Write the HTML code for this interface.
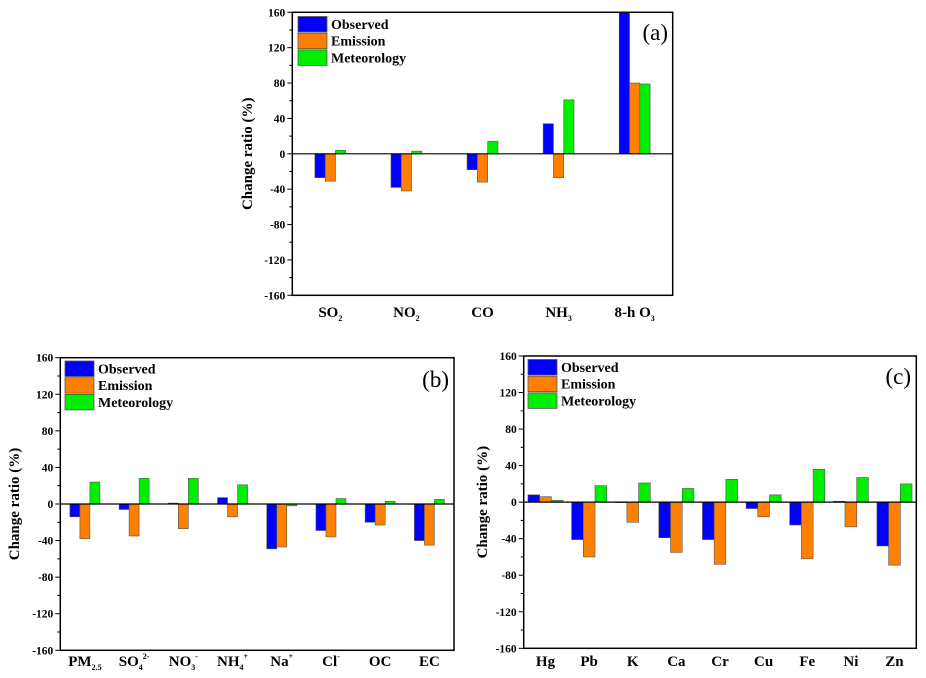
<!DOCTYPE html>
<html><head><meta charset="utf-8"><style>
html,body{margin:0;padding:0;background:#fff;}
svg{display:block;font-family:"Liberation Serif",serif;}
text{font-family:"Liberation Serif",serif;}
</style></head><body>
<svg id="chart" width="926" height="678" viewBox="0 0 926 678" xmlns="http://www.w3.org/2000/svg"></svg>
<script>
// Panel (a)
const catsA = [["SO","2",""],["NO","2",""],["CO","",""],["NH","3",""],["8-h O","3",""]];
const obsA = [-27,-38,-18,34,160];
const emiA = [-31,-42,-32,-27,80];
const metA = [4,3,14,61,79];
// Panel (b)
const catsB = [["PM","2.5",""],["SO","4","2-"],["NO","3","-"],["NH","4","+"],["Na","","+"],["Cl","","-"],["OC","",""],["EC","",""]];
const obsB = [-14,-6,1,7,-49,-29,-20,-40];
const emiB = [-38,-35,-27,-14,-47,-36,-23,-45];
const metB = [24,28,28,21,-2,6,3,5];
// Panel (c)
const catsC = [["Hg","",""],["Pb","",""],["K","",""],["Ca","",""],["Cr","",""],["Cu","",""],["Fe","",""],["Ni","",""],["Zn","",""]];
const obsC = [8,-41,0,-39,-41,-7,-25,1,-48];
const emiC = [6,-60,-22,-55,-68,-16,-62,-27,-69];
const metC = [2,18,21,15,25,8,36,27,20];
const yTicks = [-160,-120,-80,-40,0,40,80,120,160];
const seriesNames = ["Observed","Emission","Meteorology"];
const colors = ["#0000ff","#ff8000","#00ee00"];

const NS = "http://www.w3.org/2000/svg";
const svg = document.getElementById("chart");
function mk(tag, attrs, parent){
  const e = document.createElementNS(NS, tag);
  for (const k in attrs) e.setAttribute(k, attrs[k]);
  (parent||svg).appendChild(e);
  return e;
}

function panel(id, L, R, T, B, cats, series, barW, label, labelY, ytitleX, legX, legY, tagX, tagY){
  const g = mk("g", {});
  
  
  const y = v => B - (Math.max(-160, Math.min(160, v)) + 160) / 320 * (B - T);
  const band = (R - L) / cats.length;
  const cx = i => L + band * (i + 0.5);
  series.forEach((vals, s) => {
    vals.forEach((v, i) => {
      const x = cx(i) + (s - 1.5) * barW;
      const y0 = y(0), y1 = y(v);
      const r = mk("rect", {x: x, y: Math.min(y0, y1), width: barW, height: Math.max(0.5, Math.abs(y1 - y0)), fill: colors[s], stroke: "#555", "stroke-width": 0.6}, g);
      
      
    });
  });
  const fr = mk("rect", {x: L, y: T, width: R - L, height: B - T, fill: "none", stroke: "#000", "stroke-width": 1.5}, g);
  
  
  const zl = mk("line", {x1: L, x2: R, y1: y(0), y2: y(0), stroke: "#000", "stroke-width": 1.2}, g);
  
  
  for (let v = -160; v <= 160; v += 20) {
    const major = v % 40 === 0;
    mk("line", {x1: L - (major ? 5 : 3), x2: L, y1: y(v), y2: y(v), stroke: "#000", "stroke-width": 1}, g);
  }
  yTicks.forEach(v => {
    const t = mk("text", {x: L - 7, y: y(v) + 4, "text-anchor": "end", "font-size": 11.5, "font-weight": "bold"}, g);
    t.textContent = v;
    
    
  });
  const yt = mk("text", {x: ytitleX, y: (T + B) / 2, transform: "rotate(-90 " + ytitleX + " " + ((T + B) / 2) + ")", "text-anchor": "middle", "font-size": 15, "font-weight": "bold"}, g);
  yt.textContent = "Change ratio (%)";
  
  
  cats.forEach((c, i) => {
    const t = mk("text", {x: cx(i), y: labelY, "text-anchor": "middle", "font-size": 15, "font-weight": "bold"}, g);
    
    
    const a = mk("tspan", {}, t); a.textContent = c[0];
    if (c[1]) { const s = mk("tspan", {"font-size": 8, dy: 4}, t); s.textContent = c[1]; }
    if (c[2]) { const s = mk("tspan", {"font-size": 8, dy: c[1] ? -11 : -7}, t); s.textContent = c[2]; }
  });
  seriesNames.forEach((n, s) => {
    const r = mk("rect", {x: legX, y: legY + s * 16.7, width: 29, height: 15.5, fill: colors[s], stroke: "#555", "stroke-width": 0.8}, g);
    
    
    const t = mk("text", {x: legX + 33, y: legY + s * 16.7 + 12.5, "font-size": 14, "font-weight": "bold"}, g);
    t.textContent = n;
    
    
  });
  const pl = mk("text", {x: tagX, y: tagY, "text-anchor": "end", "font-size": 23}, g);
  pl.textContent = label;
  
  
}

panel("a", 292.3, 672.7, 12.3, 295.3, catsA, [obsA, emiA, metA], 10.3, "(a)", 317, 252, 298, 16.5, 668, 40);
panel("b", 60.3, 454, 357.7, 650.3, catsB, [obsB, emiB, metB], 10, "(b)", 666, 19, 65, 361, 449, 387);
panel("c", 523.7, 916.3, 356, 648.3, catsC, [obsC, emiC, metC], 11.7, "(c)", 666, 487, 528, 359.5, 911, 384);
</script>
</body></html>
